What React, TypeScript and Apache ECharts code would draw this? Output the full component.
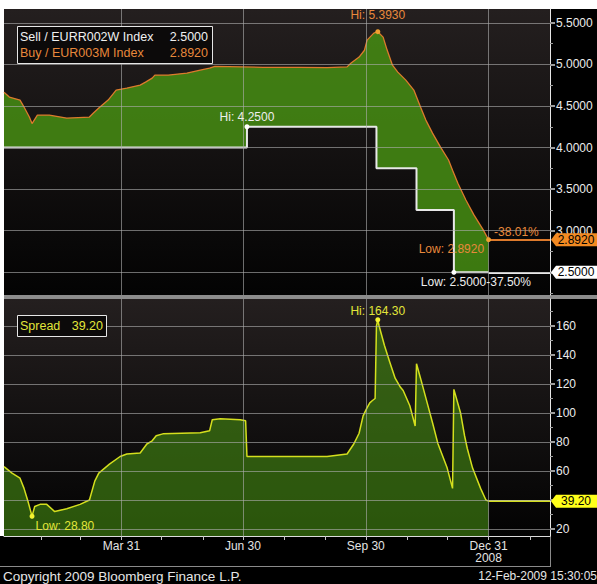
import React, { useEffect, useRef } from 'react';
import * as echarts from 'echarts';

// ---------------- data ----------------
const X_MIN = '2008-01-03';
const X_MAX = '2009-02-15';

const BUY_DATES = [
  '2008-01-03', '2008-01-07', '2008-01-15', '2008-01-18', '2008-01-22', '2008-01-24', '2008-01-28',
  '2008-02-06', '2008-02-19', '2008-03-07', '2008-03-10', '2008-03-14', '2008-03-21', '2008-03-27',
  '2008-04-04', '2008-04-14', '2008-04-18', '2008-04-23', '2008-04-25', '2008-05-05', '2008-05-19',
  '2008-05-29', '2008-06-05', '2008-06-09', '2008-07-15', '2008-08-11', '2008-09-01', '2008-09-16',
  '2008-09-19', '2008-09-25', '2008-09-29', '2008-10-01', '2008-10-06', '2008-10-09', '2008-10-13',
  '2008-10-16', '2008-10-20', '2008-10-24', '2008-10-30', '2008-11-05', '2008-11-10', '2008-11-14',
  '2008-11-19', '2008-11-25', '2008-12-01', '2008-12-04', '2008-12-08', '2008-12-14', '2008-12-20',
  '2008-12-27', '2008-12-31',
];
const BUY_VALUES = [
  4.665, 4.607, 4.571, 4.487, 4.367, 4.288, 4.39,
  4.39, 4.355, 4.367, 4.415, 4.475, 4.571, 4.691,
  4.715, 4.751, 4.787, 4.835, 4.871, 4.871, 4.895,
  4.931, 4.955, 4.975, 4.965, 4.965, 4.96, 4.97,
  5.016, 5.088, 5.17, 5.292, 5.376, 5.393, 5.328,
  5.172, 4.99, 4.907, 4.811, 4.691, 4.487, 4.33,
  4.174, 4.006, 3.85, 3.727, 3.57, 3.37, 3.19,
  3.01, 2.892,
];

// ECB refi (EURR002W) – value valid from each date
const SELL_DATES = ['2008-01-03', '2008-07-03', '2008-10-08', '2008-11-07', '2008-12-05', '2008-12-31'];
const SELL_VALUES = [4.0, 4.25, 3.75, 3.25, 2.5, 2.5];

const SPREAD_DATES = [
  '2008-01-03', '2008-01-09', '2008-01-15', '2008-01-18', '2008-01-21', '2008-01-24', '2008-01-26',
  '2008-01-30', '2008-02-04', '2008-02-10', '2008-02-19', '2008-02-29', '2008-03-07', '2008-03-11',
  '2008-03-14', '2008-03-22', '2008-03-30', '2008-04-04', '2008-04-14', '2008-04-19', '2008-04-23',
  '2008-04-26', '2008-05-01', '2008-05-29', '2008-06-05', '2008-06-07', '2008-06-13', '2008-06-28',
  '2008-07-02', '2008-07-03', '2008-08-11', '2008-09-01', '2008-09-16', '2008-09-21', '2008-09-25',
  '2008-09-28', '2008-10-01', '2008-10-03', '2008-10-05', '2008-10-07', '2008-10-08', '2008-10-09',
  '2008-10-10', '2008-10-14', '2008-10-18', '2008-10-22', '2008-10-26', '2008-10-28', '2008-11-02',
  '2008-11-06', '2008-11-07', '2008-11-10', '2008-11-15', '2008-11-19', '2008-11-23', '2008-11-30',
  '2008-12-04', '2008-12-05', '2008-12-10', '2008-12-13', '2008-12-15', '2008-12-19', '2008-12-25',
  '2008-12-29', '2008-12-31',
];
const SPREAD_VALUES = [
  63, 58.5, 55, 48, 39, 28.8, 35.5,
  37, 37, 32, 34, 37, 40, 53,
  58.5, 64.7, 70, 71.7, 72.4, 78.6, 80.8,
  84.3, 85.6, 86.3, 87.7, 95.3, 96, 95.3,
  94.6, 70, 70, 70, 71.7, 78.6, 86,
  98, 103.7, 107, 108.6, 110, 160, 164.3,
  160, 146.5, 135, 124, 117.7, 115.5, 105,
  91, 134, 124, 107, 93.3, 79, 62,
  48, 116.3, 100, 84.3, 75.7, 62, 48,
  40, 39.2,
];

const QUARTER_DATES = ['2008-03-31', '2008-06-30', '2008-09-30', '2008-12-31'];
const QUARTER_LABELS = ['Mar 31', 'Jun 30', 'Sep 30', 'Dec 31\n2008'];
const MONTH_END_DATES = [
  '2008-01-31', '2008-02-29', '2008-03-31', '2008-04-30', '2008-05-31', '2008-06-30', '2008-07-31',
  '2008-08-31', '2008-09-30', '2008-10-31', '2008-11-30', '2008-12-31', '2009-01-31',
];

const TOP_Y_MIN = 2.227;
const TOP_Y_MAX = 5.666;
const BOTTOM_Y_MIN = 15.17;
const BOTTOM_Y_MAX = 178.6;
const TOP_Y_TICKS = [2.5, 3, 3.5, 4, 4.5, 5, 5.5];
const TOP_Y_LABELS = [3, 3.5, 4, 4.5, 5, 5.5]; // 2.5 is covered by the last-price tag
const TOP_Y_MINOR = [2.25, 2.75, 3.25, 3.75, 4.25, 4.75, 5.25];
const BOTTOM_Y_TICKS = [20, 40, 60, 80, 100, 120, 140, 160];
const BOTTOM_Y_LABELS = [20, 60, 80, 100, 120, 140, 160]; // 40 is covered by the last-price tag
const BOTTOM_Y_MINOR = [30, 50, 70, 90, 110, 130, 150, 170];

const SELL_NAME = 'Sell / EURR002W Index';
const BUY_NAME = 'Buy / EUR003M Index';
const SPREAD_NAME = 'Spread';
const COPYRIGHT = 'Copyright 2009 Bloomberg Finance L.P.';
const STAMP = '12-Feb-2009 15:30:05';

// ---------------- style ----------------
const FONT = '"Liberation Sans", Arial, sans-serif';
const ORANGE = '#dd7a2c';
const ORANGE_TEXT = '#e8893c';
const ORANGE_TAG = '#f28a22';
const WHITE_LINE = '#e8e8e8';
const YELLOW = '#d4df1e';
const YELLOW_TEXT = '#e2e63a';
const YELLOW_TAG = '#ffff1a';
const GREEN_FILL = 'rgba(70,141,19,0.86)';
const GRID_COLOR = 'rgba(172,172,172,0.62)';
const TAG_PATH = 'path://M0,6.5L5,0L46,0L46,13L5,13Z';

const ts = (s: string) => {
  const [y, m, d] = s.split('-').map(Number);
  return new Date(y, m - 1, d).getTime();
};

const panelBg = () =>
  new echarts.graphic.LinearGradient(0, 0, 0, 1, [
    { offset: 0, color: '#241f1f' },
    { offset: 1, color: '#030303' },
  ]);

function buildOption() {
  const xMinT = ts(X_MIN);
  const xMaxT = ts(X_MAX);
  const buyData = BUY_DATES.map((d, i) => [ts(d), BUY_VALUES[i]]);
  const sellData = SELL_DATES.map((d, i) => [ts(d), SELL_VALUES[i]]);
  const spreadData = SPREAD_DATES.map((d, i) => [ts(d), SPREAD_VALUES[i]]);

  const idxMax = (a: number[]) => a.indexOf(Math.max(...a));
  const idxMin = (a: number[]) => a.indexOf(Math.min(...a));

  const buyFirst = BUY_VALUES[0];
  const buyLast = BUY_VALUES[BUY_VALUES.length - 1];
  const buyLastT = ts(BUY_DATES[BUY_DATES.length - 1]);
  const buyHi = idxMax(BUY_VALUES);
  const buyPct = ((buyLast / buyFirst - 1) * 100).toFixed(2) + '%';

  const sellFirst = SELL_VALUES[0];
  const sellLast = SELL_VALUES[SELL_VALUES.length - 1];
  const sellLastT = ts(SELL_DATES[SELL_DATES.length - 1]);
  const sellHi = idxMax(SELL_VALUES);
  const sellLo = idxMin(SELL_VALUES);
  const sellPct = ((sellLast / sellFirst - 1) * 100).toFixed(2) + '%';

  const spLast = SPREAD_VALUES[SPREAD_VALUES.length - 1];
  const spLastT = ts(SPREAD_DATES[SPREAD_DATES.length - 1]);
  const spHi = idxMax(SPREAD_VALUES);
  const spLo = idxMin(SPREAD_VALUES);

  const xBase = { type: 'value', min: xMinT, max: xMaxT, scale: true };
  const quarterT = QUARTER_DATES.map(ts);
  const lbl = { fontFamily: FONT, fontSize: 12 };

  const dot = (coord: any[], color: string, label: any) => ({
    coord,
    symbol: 'circle',
    symbolSize: 5,
    itemStyle: { color },
    label: { show: true, ...lbl, ...label },
  });
  const textOnly = (coord: any[], label: any) => ({
    coord,
    symbol: 'circle',
    symbolSize: 1,
    itemStyle: { color: 'rgba(0,0,0,0)' },
    label: { show: true, ...lbl, ...label },
  });
  const tag = (coord: any[], color: string, text: string) => ({
    coord,
    symbol: TAG_PATH,
    symbolSize: [46, 13],
    symbolKeepAspect: false,
    symbolOffset: [24, 0],
    itemStyle: { color },
    label: { show: true, position: 'inside', formatter: text, color: '#000', offset: [2, 0], ...lbl },
  });
  const lastLine = (from: any[], color: string, width: number) => ({
    symbol: ['none', 'none'],
    silent: true,
    label: { show: false },
    lineStyle: { color, width, type: 'solid' },
    emphasis: { disabled: true },
    data: [[{ coord: from }, { coord: [xMaxT, from[1]] }]],
  });
  // grid lines, drawn through the axes' scales as value-to-value segments
  const gridSeries = (xi: number, yi: number, yTicks: number[], yMin: number, yMax: number) => ({
    type: 'line',
    name: 'grid' + yi,
    xAxisIndex: xi,
    yAxisIndex: yi,
    data: [[xMinT, yMin]],
    symbol: 'none',
    showSymbol: false,
    silent: true,
    clip: false,
    z: 10,
    lineStyle: { width: 0, color: GRID_COLOR },
    markLine: {
      symbol: ['none', 'none'],
      silent: true,
      label: { show: false },
      lineStyle: { color: GRID_COLOR, width: 1, type: 'solid', opacity: 1 },
      emphasis: { disabled: true },
      data: [
        ...quarterT.map((t) => [{ coord: [t, yMin] }, { coord: [t, yMax] }]),
        ...yTicks.map((v) => [{ coord: [xMinT, v] }, { coord: [xMaxT, v] }]),
      ],
    },
  });

  const legendText = (x: number, y: number, text: string, fill: string, align = 'left', size = 12) => ({
    type: 'text',
    x,
    y,
    z: 101,
    style: {
      text,
      fill,
      font: size + 'px ' + FONT,
      align,
      textAlign: align,
      verticalAlign: 'middle',
      textVerticalAlign: 'middle',
    },
  });

  return {
    animation: false,
    backgroundColor: '#000',
    textStyle: { fontFamily: FONT },
    grid: [
      { left: 4, right: 47, top: 9, height: 286, show: false },
      { left: 4, right: 47, top: 299, height: 237, show: false },
    ],
    xAxis: [
      {
        ...xBase, gridIndex: 0,
        axisLine: { show: false },
        axisTick: { show: false },
        axisLabel: { show: false },
        splitLine: { show: false },
      },
      {
        ...xBase, gridIndex: 1, position: 'bottom',
        axisLine: { show: true, onZero: false, lineStyle: { color: '#dcdcdc', width: 1 } },
        axisTick: { show: true, length: 4, lineStyle: { color: '#c4c4c4', width: 1 }, customValues: MONTH_END_DATES.map(ts) },
        axisLabel: {
          show: true,
          customValues: quarterT,
          formatter: (v: number) => {
            const i = quarterT.indexOf(v);
            return i >= 0 ? QUARTER_LABELS[i] : '';
          },
          color: '#e4e4e4',
          lineHeight: 12,
          margin: 4,
          ...lbl,
        },
        splitLine: { show: false },
      },
    ],
    yAxis: [
      {
        type: 'value', gridIndex: 0, position: 'right', min: TOP_Y_MIN, max: TOP_Y_MAX,
        axisLine: { show: true, onZero: false, lineStyle: { color: '#e6e6e6', width: 1 } },
        axisTick: { show: true, length: 5, lineStyle: { color: '#9c9c9c', width: 2 }, customValues: TOP_Y_TICKS },
        axisLabel: { show: true, customValues: TOP_Y_LABELS, formatter: (v: number) => v.toFixed(4), color: '#ececec', margin: 6, ...lbl },
        splitLine: { show: false },
      },
      {
        type: 'value', gridIndex: 0, position: 'right', min: TOP_Y_MIN, max: TOP_Y_MAX,
        axisLine: { show: false },
        axisTick: { show: true, length: 3, lineStyle: { color: '#9c9c9c', width: 1 }, customValues: TOP_Y_MINOR },
        axisLabel: { show: false },
        splitLine: { show: false },
      },
      {
        type: 'value', gridIndex: 1, position: 'right', min: BOTTOM_Y_MIN, max: BOTTOM_Y_MAX,
        axisLine: { show: true, onZero: false, lineStyle: { color: '#e6e6e6', width: 1 } },
        axisTick: { show: true, length: 5, lineStyle: { color: '#9c9c9c', width: 2 }, customValues: BOTTOM_Y_TICKS },
        axisLabel: { show: true, customValues: BOTTOM_Y_LABELS, formatter: (v: number) => String(v), color: '#ececec', margin: 6, ...lbl },
        splitLine: { show: false },
      },
      {
        type: 'value', gridIndex: 1, position: 'right', min: BOTTOM_Y_MIN, max: BOTTOM_Y_MAX,
        axisLine: { show: false },
        axisTick: { show: true, length: 3, lineStyle: { color: '#9c9c9c', width: 1 }, customValues: BOTTOM_Y_MINOR },
        axisLabel: { show: false },
        splitLine: { show: false },
      },
    ],
    series: [
      {
        type: 'custom',
        name: 'fill',
        xAxisIndex: 0,
        yAxisIndex: 0,
        silent: true,
        z: 2,
        data: [[xMinT, sellFirst]],
        renderItem: (params: any, api: any) => {
          if (params.dataIndex !== 0) return null;
          const pts: number[][] = buyData.map((p) => api.coord(p));
          const steps: number[][] = [];
          for (let i = 0; i < sellData.length; i++) {
            steps.push(sellData[i]);
            if (i + 1 < sellData.length) steps.push([sellData[i + 1][0], sellData[i][1]]);
          }
          for (let i = steps.length - 1; i >= 0; i--) pts.push(api.coord(steps[i]));
          return { type: 'polygon', shape: { points: pts }, style: { fill: GREEN_FILL } };
        },
      },
      {
        type: 'line',
        name: SELL_NAME,
        xAxisIndex: 0,
        yAxisIndex: 0,
        data: sellData,
        step: 'end',
        showSymbol: false,
        symbol: 'none',
        clip: false,
        z: 3,
        lineStyle: { color: WHITE_LINE, width: 2 },
        markLine: lastLine([sellLastT, sellLast], WHITE_LINE, 2),
        markPoint: {
          silent: true,
          data: [
            dot(sellData[sellHi], '#ffffff', {
              position: 'top', distance: 1, color: '#eeeeee',
              formatter: 'Hi: ' + SELL_VALUES[sellHi].toFixed(4),
            }),
            dot(sellData[sellLo], '#ffffff', {
              position: 'bottom', distance: 1, offset: [22, 0], color: '#eeeeee',
              formatter: 'Low: ' + SELL_VALUES[sellLo].toFixed(4) + sellPct,
            }),
            tag([xMaxT, sellLast], '#ffffff', sellLast.toFixed(4)),
          ],
        },
      },
      {
        type: 'line',
        name: BUY_NAME,
        xAxisIndex: 0,
        yAxisIndex: 0,
        data: buyData,
        showSymbol: false,
        symbol: 'none',
        clip: false,
        z: 4,
        lineStyle: { color: ORANGE, width: 1.3 },
        markLine: lastLine([buyLastT, buyLast], ORANGE, 2),
        markPoint: {
          silent: true,
          data: [
            dot(buyData[buyHi], '#f0a030', {
              position: 'top', distance: 8, color: ORANGE_TEXT,
              formatter: 'Hi: ' + BUY_VALUES[buyHi].toFixed(4),
            }),
            dot([buyLastT, buyLast], '#f0a030', {
              position: 'left', distance: 2, offset: [0, 9], color: ORANGE_TEXT,
              formatter: 'Low: ' + Math.min(...BUY_VALUES).toFixed(4),
            }),
            textOnly([buyLastT, buyLast], {
              position: 'right', distance: 5, offset: [0, -8], color: ORANGE_TEXT,
              formatter: buyPct,
            }),
            tag([xMaxT, buyLast], ORANGE_TAG, buyLast.toFixed(4)),
          ],
        },
      },
      {
        type: 'line',
        name: SPREAD_NAME,
        xAxisIndex: 1,
        yAxisIndex: 2,
        data: spreadData,
        showSymbol: false,
        symbol: 'none',
        clip: false,
        z: 3,
        lineStyle: { color: YELLOW, width: 1.5 },
        areaStyle: { color: GREEN_FILL, origin: 'start' },
        markLine: lastLine([spLastT, spLast], YELLOW, 2),
        markPoint: {
          silent: true,
          data: [
            dot(spreadData[spHi], '#f4f430', {
              position: 'top', distance: 0, color: YELLOW_TEXT,
              formatter: 'Hi: ' + SPREAD_VALUES[spHi].toFixed(2),
            }),
            dot(spreadData[spLo], '#f4f430', {
              position: 'right', distance: 1, offset: [0, 10], color: YELLOW_TEXT,
              formatter: 'Low: ' + SPREAD_VALUES[spLo].toFixed(2),
            }),
            tag([xMaxT, spLast], YELLOW_TAG, spLast.toFixed(2)),
          ],
        },
      },
      gridSeries(0, 0, TOP_Y_TICKS, TOP_Y_MIN, TOP_Y_MAX),
      gridSeries(1, 2, BOTTOM_Y_TICKS, BOTTOM_Y_MIN, BOTTOM_Y_MAX),
    ],
    graphic: [
      // panel backgrounds (behind everything)
      { type: 'rect', z: -10, shape: { x: 4, y: 9, width: 546, height: 286 }, style: { fill: panelBg() }, silent: true },
      { type: 'rect', z: -10, shape: { x: 4, y: 299, width: 546, height: 237 }, style: { fill: panelBg() }, silent: true },
      { type: 'rect', shape: { x: 0, y: 0, width: 597, height: 9 }, style: { fill: '#ffffff' }, silent: true },
      { type: 'rect', shape: { x: 0, y: 0, width: 4, height: 536 }, style: { fill: '#ffffff' }, silent: true },
      { type: 'rect', shape: { x: 4, y: 295, width: 593, height: 4 }, style: { fill: '#8c8c8c' }, silent: true },
      { type: 'line', shape: { x1: 0, y1: 566.5, x2: 551, y2: 566.5 }, style: { stroke: '#8a8a8a', lineWidth: 1 }, silent: true },
      { type: 'line', shape: { x1: 550.5, y1: 536, x2: 550.5, y2: 566 }, style: { stroke: '#8a8a8a', lineWidth: 1 }, silent: true },
      // legend boxes
      { type: 'rect', z: 100, shape: { x: 17.5, y: 26.5, width: 195, height: 37 }, style: { fill: '#0c0a0a', stroke: '#e6e6e6', lineWidth: 1 }, silent: true },
      legendText(20, 37, SELL_NAME, '#f0f0f0', 'left', 12.5),
      legendText(208, 37, sellLast.toFixed(4), '#f0f0f0', 'right', 12.5),
      legendText(20, 53, BUY_NAME, ORANGE_TEXT, 'left', 12.5),
      legendText(208, 53, buyLast.toFixed(4), ORANGE_TEXT, 'right', 12.5),
      { type: 'rect', z: 100, shape: { x: 17.5, y: 315.5, width: 89, height: 21 }, style: { fill: '#0c0a0a', stroke: '#e6e6e6', lineWidth: 1 }, silent: true },
      legendText(20, 326, SPREAD_NAME, YELLOW_TEXT, 'left', 12.5),
      legendText(103, 326, spLast.toFixed(2), YELLOW_TEXT, 'right', 12.5),
      // footer
      legendText(3, 576, COPYRIGHT, '#e6e6e6', 'left', 13.5),
      legendText(597, 576, STAMP, '#e6e6e6', 'right', 12),
    ],
  };
}

export default function App() {
  const ref = useRef<HTMLDivElement>(null);
  useEffect(() => {
    document.body.style.margin = '0';
    const chart = echarts.init(ref.current as HTMLDivElement, null, { renderer: 'svg' });
    chart.setOption(buildOption() as any);
    return () => chart.dispose();
  }, []);
  return <div ref={ref} style={{ width: 597, height: 584 }} />;
}
